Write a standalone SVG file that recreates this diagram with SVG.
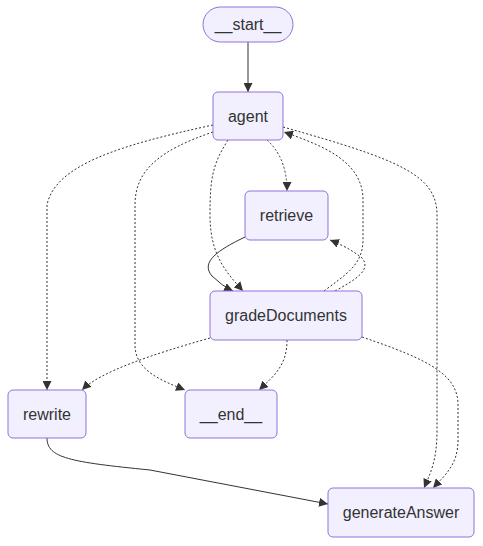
<svg xmlns="http://www.w3.org/2000/svg" width="483" height="546" viewBox="0 0 483 546">
<style>
.node rect{fill:#f2f0ff;stroke:#9370DB;stroke-width:1}
.node text{font-family:"Liberation Sans",Arial,sans-serif;font-size:16px;fill:#333;text-anchor:middle;dominant-baseline:central}
.edge{fill:none;stroke:#333;stroke-width:1;marker-end:url(#arrow)}
.dot{stroke-dasharray:2 2}
</style>
<defs>
<marker id="arrow" viewBox="0 0 10 10" refX="10" refY="5" markerWidth="9" markerHeight="9" markerUnits="userSpaceOnUse" orient="auto">
<path d="M0,0 L10,5 L0,10 z" fill="#333"/>
</marker>
</defs>
<rect width="483" height="546" fill="#fff"/>
<g id="edges">
<path class="edge" d="M248,42 L248,92"/>
<path class="edge dot" d="M267,140 Q287,158 287,191"/>
<path class="edge dot" d="M228,140 C212,165 210,180 210,215 C210,255 226,272 243,291"/>
<path class="edge dot" d="M213,125 C120,145 55,165 47,205 L47,390"/>
<path class="edge dot" d="M213,132 C160,150 135,170 135,205 L135,345 C135,370 160,380 185,390"/>
<path class="edge dot" d="M283,127 C400,160 437,175 437,215 L437,430 C437,460 431,472 424,488"/>
<path class="edge" d="M245,237 C218,250 200,262 212,276 Q222,286 233,291"/>
<path class="edge dot" d="M335,291 C355,280 372,270 362,258 C352,250 340,244 330,240"/>
<path class="edge dot" d="M324,291 C345,275 363,265 363,240 L363,200 C363,160 320,145 284,132"/>
<path class="edge dot" d="M210,338 C150,355 100,372 82,390"/>
<path class="edge dot" d="M287,340 C287,365 275,375 259,390"/>
<path class="edge dot" d="M362,337 C430,360 458,375 458,405 L458,440 C458,465 445,475 433,488"/>
<path class="edge" d="M47,438 C47,458 70,462 150,470 L328,504"/>
</g>
<g id="start" class="node"><rect x="203" y="7" width="90" height="35" rx="17.5"/><text x="248" y="24.5">__start__</text></g>
<g id="agent" class="node"><rect x="213" y="92" width="70" height="48" rx="5"/><text x="248" y="116">agent</text></g>
<g id="retrieve" class="node"><rect x="245" y="191" width="83" height="49" rx="5"/><text x="286.5" y="215.5">retrieve</text></g>
<g id="gradeDocuments" class="node"><rect x="210" y="291" width="152" height="49" rx="5"/><text x="286" y="315.5">gradeDocuments</text></g>
<g id="rewrite" class="node"><rect x="8" y="390" width="78" height="48" rx="5"/><text x="47" y="414">rewrite</text></g>
<g id="end" class="node"><rect x="185" y="390" width="92" height="48" rx="5"/><text x="231" y="414">__end__</text></g>
<g id="generateAnswer" class="node"><rect x="328" y="488" width="146" height="49" rx="5"/><text x="401" y="512.5">generateAnswer</text></g>
</svg>
